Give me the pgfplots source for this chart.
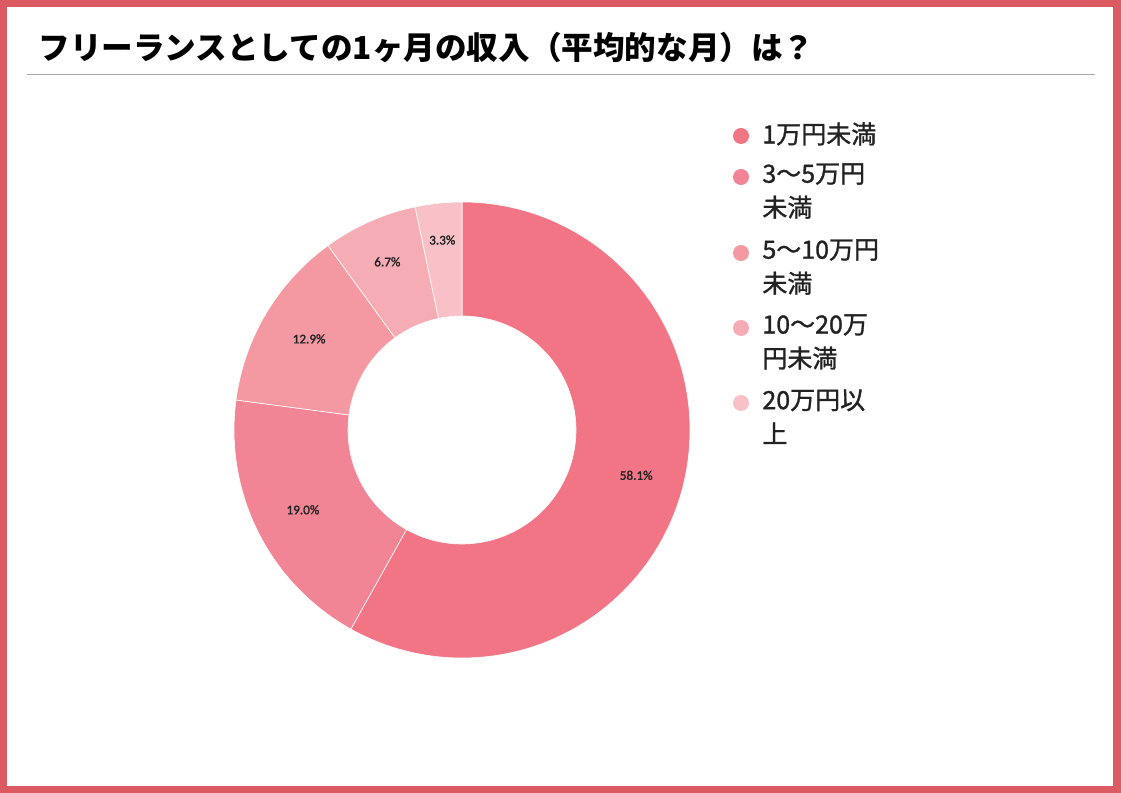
\documentclass[border=0pt]{standalone}
\usepackage{pgfplots}
\pgfplotsset{compat=1.18}
\usepackage{fontspec}
\setmainfont{Noto Sans CJK JP}
\newfontfamily\cjk{Noto Sans CJK JP}
\newfontfamily\cjkm[FakeBold=1.2]{Noto Sans CJK JP}
\newfontfamily\lab[FakeBold=1.5]{Carlito}
\definecolor{frame}{HTML}{DC5A62}
\definecolor{cA}{HTML}{F27586}
\definecolor{cB}{HTML}{F28595}
\definecolor{cC}{HTML}{F499A2}
\definecolor{cD}{HTML}{F6ACB4}
\definecolor{cE}{HTML}{F8C1C7}
\definecolor{txt}{HTML}{222222}
% #1 start (cum %), #2 end (cum %), #3 colour, #4 label, #5 label radius (pt)
\newcommand\slice[5]{%
  \fill[#3, draw=white, line width=0.3pt] ({90-3.6*#1}:114pt) arc[start angle={90-3.6*#1}, end angle={90-3.6*#2}, radius=114pt]
     -- ({90-3.6*#2}:57pt) arc[start angle={90-3.6*#2}, end angle={90-3.6*#1}, radius=57pt] -- cycle;
  \node[font=\lab\fontsize{6.6}{7}\selectfont, text=txt] at ({90-1.8*(#1+#2)}:#5pt) {#4};
}
\begin{document}
\begin{tikzpicture}[x=0.5pt,y=0.5pt]
\fill[frame] (0,0) rectangle (1121,793);
\fill[white] (7,7) rectangle (1113,786);
\node[anchor=west, inner sep=0pt, font=\cjk\bfseries\fontsize{15.8}{18}\selectfont, text=black] at (38,745) {フリーランスとしての1ヶ月の収入（平均的な月）は？};
\draw[gray!70, line width=0.5pt] (27,718) -- (1095,718);
\begin{axis}[hide axis, scale only axis, width=228pt, height=228pt,
  xmin=-1, xmax=1, ymin=-1, ymax=1,
  at={(231pt,181.5pt)}, anchor=center, clip=false]
\addplot[draw=none] coordinates {(0,0)};
\begin{scope}[shift={(axis cs:0,0)}]
\slice{0}{58.1}{cA}{58.1\%}{90}
\slice{58.1}{77.1}{cB}{19.0\%}{89}
\slice{77.1}{90.0}{cC}{12.9\%}{89}
\slice{90.0}{96.7}{cD}{6.7\%}{92}
\slice{96.7}{100}{cE}{3.3\%}{95.5}
\end{scope}
\end{axis}
% legend
\begin{scope}[every node/.style={anchor=north west, inner sep=0pt, align=left, text=txt, font=\cjkm\fontsize{12.5}{17}\selectfont}]
\fill[cA] (741,657) circle (8);
\node at (762,671) {1万円未満};
\fill[cB] (741,616) circle (8);
\node at (762,630) {3〜5万円\\未満};
\fill[cC] (741,540) circle (8);
\node at (762,554) {5〜10万円\\未満};
\fill[cD] (741,465) circle (8);
\node at (762,479) {10〜20万\\円未満};
\fill[cE] (741,390) circle (8);
\node at (762,404) {20万円以\\上};
\end{scope}
\end{tikzpicture}
\end{document}
